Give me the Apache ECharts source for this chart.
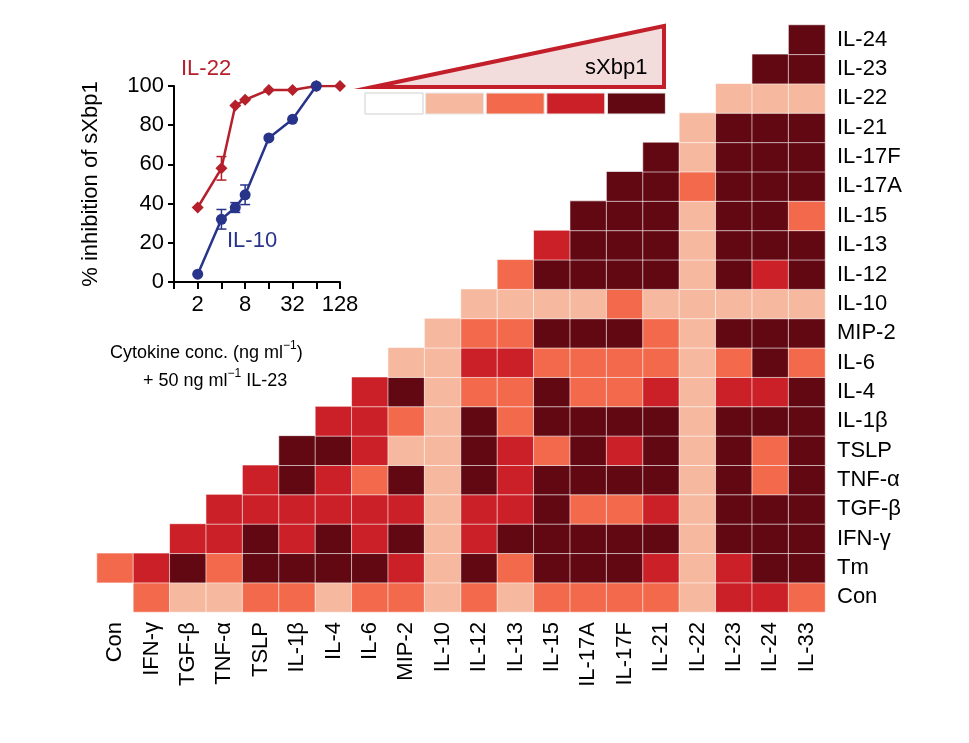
<!DOCTYPE html>
<html><head><meta charset="utf-8">
<script src="https://cdn.jsdelivr.net/npm/echarts@6/dist/echarts.min.js"></script>
<style>html,body{margin:0;padding:0;background:#fff}#c{width:969px;height:743px}</style>
</head><body><div id="c"></div>
<script>
const xCats = ['Con','IFN-γ','TGF-β','TNF-α','TSLP','IL-1β','IL-4','IL-6','MIP-2','IL-10','IL-12','IL-13','IL-15','IL-17A','IL-17F','IL-21','IL-22','IL-23','IL-24','IL-33'];
const yCats = ['Con','Tm','IFN-γ','TGF-β','TNF-α','TSLP','IL-1β','IL-4','IL-6','MIP-2','IL-10','IL-12','IL-13','IL-15','IL-17A','IL-17F','IL-21','IL-22','IL-23','IL-24'];
// each row lists levels (0-4) from its first filled column to the last column
const rowCon  = [0,2,1,1,2,2,1,2,2,1,2,1,2,2,2,2,1,3,3,2];
const rowTm   = [2,3,4,2,4,4,4,4,3,1,4,2,4,4,4,3,1,3,4,4];
const rowIFNg = [3,3,4,3,4,3,4,1,3,4,4,4,4,4,1,4,4,4];
const rowTGFb = [3,3,3,3,3,3,1,3,3,4,2,2,3,1,4,4,4];
const rowTNFa = [3,4,3,2,4,1,4,3,4,4,4,4,1,4,2,4];
const rowTSLP = [4,4,3,1,1,4,3,2,4,3,4,1,4,2,4];
const rowIL1b = [3,3,2,1,4,2,4,4,4,4,1,4,4,4];
const rowIL4  = [3,4,1,2,2,4,2,2,3,1,3,3,4];
const rowIL6  = [1,1,3,3,2,2,2,2,1,2,4,2];
const rowMIP2 = [1,2,2,4,4,4,2,1,4,4,4];
const rowIL10 = [1,1,1,1,2,1,1,1,1,1];
const rowIL12 = [2,4,4,4,4,1,4,3,4];
const rowIL13 = [3,4,4,4,1,4,4,4];
const rowIL15 = [4,4,4,1,4,4,2];
const rowIL17A= [4,4,2,4,4,4];
const rowIL17F= [4,1,4,4,4];
const rowIL21 = [1,4,4,4];
const rowIL22 = [1,1,1];
const rowIL23 = [4,4];
const rowIL24 = [4];
const rows = [rowCon,rowTm,rowIFNg,rowTGFb,rowTNFa,rowTSLP,rowIL1b,rowIL4,rowIL6,rowMIP2,rowIL10,rowIL12,rowIL13,rowIL15,rowIL17A,rowIL17F,rowIL21,rowIL22,rowIL23,rowIL24];
const levelColors = ['#ffffff','#f6b89e','#f2694c','#cb2027','#620812'];

// inset dose-response (x: ng/ml, y: % inhibition, err: +/-)
const il22X = [2,4,6,8,16,32,64,128];
const il22Y = [38,58,90,93,98,98,100,100];
const il22E = [0,6,0,0,0,0,0,0];
const il10X = [2,4,6,8,16,32,64];
const il10Y = [4,32,38,44.5,73.5,83,100];
const il10E = [0,5,2.5,5,0,0,0];
const insetTicks = [2,8,32,128];

const heat = [];
rows.forEach((r,yi)=>{const s=xCats.length-r.length; r.forEach((v,k)=>heat.push([s+k,yi,v]));});
const errData = (xs,ys,es)=>xs.map((x,i)=>[x,ys[i],es[i]]).filter(d=>d[2]>0);
const errSeries = (xs,ys,es,color)=>({type:'custom',xAxisIndex:1,yAxisIndex:1,z:3,
  data:errData(xs,ys,es),
  renderItem:(p,api)=>{const x=api.value(0),y=api.value(1),e=api.value(2);
    const a=api.coord([x,y+e]),b=api.coord([x,y-e]),w=5;
    return {type:'group',children:[
      {type:'line',shape:{x1:a[0],y1:a[1],x2:b[0],y2:b[1]},style:{stroke:color,lineWidth:1.5}},
      {type:'line',shape:{x1:a[0]-w,y1:a[1],x2:a[0]+w,y2:a[1]},style:{stroke:color,lineWidth:1.5}},
      {type:'line',shape:{x1:b[0]-w,y1:b[1],x2:b[0]+w,y2:b[1]},style:{stroke:color,lineWidth:1.5}}]};}});

const F='Liberation Sans, Arial, sans-serif';
const chart = echarts.init(document.getElementById('c'));
const boxes = levelColors.map((c,i)=>({type:'rect',shape:{x:365+i*60.6,y:93,width:58,height:21},
  style:{fill:c,stroke:i===0?'#cfcfcf':'#e8e8e8',lineWidth:1}}));
chart.setOption({
  animation:false,
  textStyle:{fontFamily:F},
  grid:[{left:97,top:25,width:728,height:587},{left:174,top:86,width:166,height:196}],
  xAxis:[
    {type:'category',data:xCats,gridIndex:0,axisLine:{show:false},axisTick:{show:false},
     axisLabel:{rotate:90,color:'#000',fontSize:22,fontFamily:F,margin:10}},
    {type:'log',logBase:2,min:1,max:128,gridIndex:1,
     axisLine:{lineStyle:{color:'#000',width:2}},axisTick:{lineStyle:{color:'#000',width:2},length:7,inside:false},
     splitLine:{show:false},
     axisLabel:{color:'#000',fontSize:22,fontFamily:F,margin:12,
       formatter:v=>insetTicks.includes(Math.round(v))?String(Math.round(v)):''}}],
  yAxis:[
    {type:'category',data:yCats,gridIndex:0,position:'right',axisLine:{show:false},axisTick:{show:false},
     axisLabel:{color:'#000',fontSize:22,fontFamily:F,margin:12}},
    {type:'value',min:0,max:100,interval:20,gridIndex:1,
     name:'% inhibition of sXbp1',nameLocation:'middle',nameGap:72,nameRotate:90,
     nameTextStyle:{color:'#000',fontSize:22,fontFamily:F},
     axisLine:{show:true,lineStyle:{color:'#000',width:2}},axisTick:{show:true,lineStyle:{color:'#000',width:2},length:6},
     splitLine:{show:false},axisLabel:{color:'#000',fontSize:22,fontFamily:F,margin:10}}],
  visualMap:{show:false,type:'piecewise',dimension:2,seriesIndex:0,
    pieces:levelColors.map((c,i)=>({value:i,color:c}))},
  series:[
    {type:'heatmap',data:heat,xAxisIndex:0,yAxisIndex:0,
     itemStyle:{borderColor:'rgba(255,255,255,0.6)',borderWidth:1}},
    {type:'line',xAxisIndex:1,yAxisIndex:1,data:il22X.map((x,i)=>[x,il22Y[i]]),
     symbol:'diamond',symbolSize:12,itemStyle:{color:'#b5202b'},lineStyle:{color:'#b5202b',width:2.5},z:4},
    {type:'line',xAxisIndex:1,yAxisIndex:1,data:il10X.map((x,i)=>[x,il10Y[i]]),
     symbol:'circle',symbolSize:11,itemStyle:{color:'#28348a'},lineStyle:{color:'#28348a',width:2.5},z:4},
    errSeries(il22X,il22Y,il22E,'#b5202b'),
    errSeries(il10X,il10Y,il10E,'#28348a')
  ],
  graphic:[
    {type:'polygon',shape:{points:[[373,87],[664,26],[664,87]]},style:{fill:'#f3dcdc',stroke:'#c21f2a',lineWidth:4,lineJoin:'miter'}},
    {type:'text',left:585,top:57,style:{text:'sXbp1',fontSize:22,fontFamily:F,fill:'#000'}},
    ...boxes,
    {type:'text',left:181,top:58,style:{text:'IL-22',fontSize:22,fontFamily:F,fill:'#b5202b'}},
    {type:'text',left:227,top:230,style:{text:'IL-10',fontSize:22,fontFamily:F,fill:'#28348a'}},
    {type:'text',left:110,top:340,style:{text:'{a|Cytokine conc. (ng ml}{s|−1}{a|)}',
      rich:{a:{fontSize:18,fontFamily:F,fill:'#000',verticalAlign:'bottom'},s:{fontSize:12,fontFamily:F,fill:'#000',verticalAlign:'top',padding:[0,0,10,0]}}}},
    {type:'text',left:143,top:368,style:{text:'{a|+ 50 ng ml}{s|−1}{a| IL-23}',
      rich:{a:{fontSize:18,fontFamily:F,fill:'#000',verticalAlign:'bottom'},s:{fontSize:12,fontFamily:F,fill:'#000',verticalAlign:'top',padding:[0,0,10,0]}}}}
  ]
});
</script></body></html>
